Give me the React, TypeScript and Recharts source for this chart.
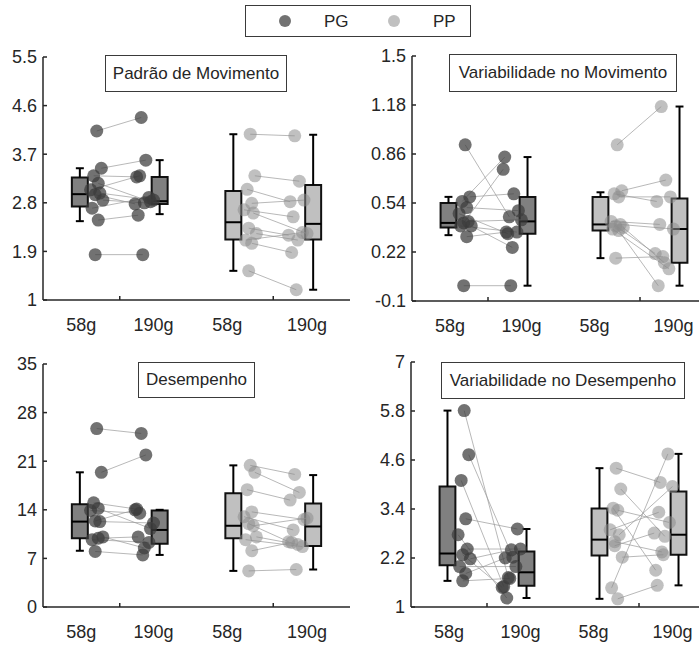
import React from "react";
import {
  ComposedChart,
  XAxis,
  YAxis,
  Scatter,
  ReferenceArea,
  ReferenceLine,
} from "recharts";

const FONT = "'Liberation Sans', Arial, sans-serif";
const AXIS = "#262626";

const groups = ["PG", "PP"];
const xTicks = [0.75, 1, 1.22, 1.7, 2, 2.22];
const xTickLabels = ["58g", "", "190g", "58g", "", "190g"];

// x jitter of each subject around its group centre
const jitter58 = [-0.15, -0.12, -0.17, -0.14, -0.19, -0.13, -0.16, -0.11, -0.18, -0.14, -0.16];
const jitter190 = [0.14, 0.17, 0.11, 0.2, 0.13, 0.22, 0.1, 0.16, 0.19, 0.12, 0.15];

// Padrão de Movimento
const movTicks = [1, 1.9, 2.8, 3.7, 4.6, 5.5];
const movPG58 = [4.13, 3.44, 3.3, 3.16, 3.04, 2.98, 2.95, 2.85, 2.7, 2.48, 1.84];
const movPG190 = [4.38, 3.59, 3.28, 2.82, 3.3, 2.85, 2.78, 2.8, 2.9, 2.57, 1.84];
const movPP58 = [4.07, 3.3, 3.05, 2.79, 2.67, 2.61, 2.33, 2.23, 2.11, 2.05, 1.54];
const movPP190 = [4.04, 3.2, 2.82, 2.85, 2.54, 2.23, 2.2, 2.11, 2.25, 1.88, 1.19];
// [whisker low, q1, median, q3, whisker high]
const movBoxPG58 = [2.46, 2.73, 2.96, 3.27, 3.44];
const movBoxPG190 = [2.59, 2.78, 2.83, 3.28, 3.59];
const movBoxPP58 = [1.54, 2.12, 2.44, 3.02, 4.07];
const movBoxPP190 = [1.19, 2.12, 2.41, 3.13, 4.06];

// Variabilidade no Movimento
const varMovTicks = [-0.1, 0.22, 0.54, 0.86, 1.18, 1.5];
const varMovPG58 = [0.92, 0.58, 0.55, 0.51, 0.47, 0.42, 0.41, 0.39, 0.39, 0.32, 0.0];
const varMovPG190 = [0.45, 0.6, 0.84, 0.49, 0.34, 0.43, 0.76, 0.25, 0.35, 0.35, 0.0];
const varMovPP58 = [0.92, 0.62, 0.6, 0.58, 0.42, 0.4, 0.39, 0.38, 0.37, 0.36, 0.18];
const varMovPP190 = [1.17, 0.69, 0.55, 0.58, 0.4, 0.37, 0.21, 0.15, 0.11, 0.0, 0.19];
const varMovBoxPG58 = [0.33, 0.38, 0.41, 0.54, 0.58];
const varMovBoxPG190 = [0.0, 0.34, 0.42, 0.58, 0.84];
const varMovBoxPP58 = [0.18, 0.36, 0.4, 0.58, 0.61];
const varMovBoxPP190 = [0.0, 0.15, 0.37, 0.57, 1.17];

// Desempenho
const desTicks = [0, 7, 14, 21, 28, 35];
const desPG58 = [25.7, 19.4, 15.0, 14.2, 13.9, 12.3, 12.4, 10.1, 9.7, 9.9, 8.0];
const desPG190 = [25.0, 21.9, 14.1, 11.3, 13.5, 12.1, 14.0, 8.5, 9.3, 10.1, 7.5];
const desPP58 = [20.4, 19.4, 16.9, 13.7, 13.0, 11.7, 12.0, 10.1, 9.7, 8.1, 5.2];
const desPP190 = [19.1, 16.5, 15.4, 12.6, 11.1, 12.8, 9.4, 9.0, 8.7, 9.3, 5.4];
const desBoxPG58 = [8.1, 9.9, 12.3, 14.8, 19.4];
const desBoxPG190 = [7.5, 9.1, 11.1, 13.9, 14.0];
const desBoxPP58 = [5.2, 9.9, 11.7, 16.4, 20.4];
const desBoxPP190 = [5.4, 8.8, 11.6, 14.9, 19.0];

// Variabilidade no Desempenho
const varDesTicks = [1, 2.2, 3.4, 4.6, 5.8, 7];
const varDesPG58 = [5.81, 4.73, 4.1, 3.16, 2.77, 2.42, 2.28, 2.18, 1.99, 1.82, 1.64];
const varDesPG190 = [1.72, 2.22, 1.5, 2.91, 1.22, 2.42, 1.48, 2.4, 1.99, 2.2, 1.7];
const varDesPP58 = [4.4, 3.89, 3.42, 3.37, 2.89, 2.77, 2.5, 2.22, 1.47, 1.2, 2.6];
const varDesPP190 = [4.05, 2.73, 1.9, 3.07, 3.32, 3.95, 2.81, 2.28, 4.75, 1.53, 2.35];
const varDesBoxPG58 = [1.64, 2.02, 2.31, 3.95, 5.81];
const varDesBoxPG190 = [1.22, 1.52, 1.85, 2.36, 2.91];
const varDesBoxPP58 = [1.2, 2.26, 2.65, 3.41, 4.4];
const varDesBoxPP190 = [1.53, 2.28, 2.77, 3.83, 4.75];

const pointFill: Record<string, string> = { PG: "#3c3c3c", PP: "#8c8c8c" };
const pointOpacity: Record<string, number> = { PG: 0.72, PP: 0.55 };
const boxFill: Record<string, string> = { PG: "#808080", PP: "#c0c0c0" };

const BOX_OFF = 0.26;
const BOX_HALF = 0.052;
const CAP_HALF = 0.026;
const TICK_FS = 18;

function XTick(props: any) {
  const { x, y, payload } = props;
  const label = xTickLabels[xTicks.indexOf(payload.value)];
  if (!label) {
    return <line x1={x} x2={x} y1={y} y2={y - 4} stroke={AXIS} strokeWidth={1.5} />;
  }
  return (
    <text x={x} y={y + 18} dy="0.71em" textAnchor="middle" fill={AXIS} fontSize={TICK_FS} fontFamily={FONT}>
      {label}
    </text>
  );
}

type PanelProps = {
  title: string;
  ticks: number[];
  series: number[][]; // PG58, PG190, PP58, PP190
  boxes: number[][];
  left: number;
  top: number;
  w: number;
  h: number;
  titleBox: { x: number; y: number; w: number; h: number };
};

function Panel({ title, ticks, series, boxes, left, top, w, h, titleBox }: PanelProps) {
  const ML = 3;
  const YW = 40;
  const MT = 10;
  const XH = 40;
  const width = ML + YW + w + 2;
  const height = MT + h + XH;

  const elems: React.ReactNode[] = [];
  groups.forEach((g, gi) => {
    const c = gi + 1;
    const s58 = series[gi * 2];
    const s190 = series[gi * 2 + 1];
    [boxes[gi * 2], boxes[gi * 2 + 1]].forEach((b, k) => {
      const bx = k === 0 ? c - BOX_OFF : c + BOX_OFF;
      const key = `${g}-${k}`;
      elems.push(
        <ReferenceLine key={`wl${key}`} segment={[{ x: bx, y: b[0] }, { x: bx, y: b[1] }]} stroke="#000" strokeWidth={2} />,
        <ReferenceLine key={`wh${key}`} segment={[{ x: bx, y: b[3] }, { x: bx, y: b[4] }]} stroke="#000" strokeWidth={2} />,
        <ReferenceLine key={`cl${key}`} segment={[{ x: bx - CAP_HALF, y: b[0] }, { x: bx + CAP_HALF, y: b[0] }]} stroke="#000" strokeWidth={2} />,
        <ReferenceLine key={`ch${key}`} segment={[{ x: bx - CAP_HALF, y: b[4] }, { x: bx + CAP_HALF, y: b[4] }]} stroke="#000" strokeWidth={2} />,
        <ReferenceArea key={`bx${key}`} x1={bx - BOX_HALF} x2={bx + BOX_HALF} y1={b[1]} y2={b[3]} fill={boxFill[g]} fillOpacity={1} stroke="#111" strokeWidth={2} />,
        <ReferenceLine key={`md${key}`} segment={[{ x: bx - BOX_HALF, y: b[2] }, { x: bx + BOX_HALF, y: b[2] }]} stroke="#000" strokeWidth={2} />
      );
    });
    s58.forEach((v, i) => {
      elems.push(
        <ReferenceLine
          key={`pl${g}${i}`}
          segment={[{ x: c + jitter58[i], y: v }, { x: c + jitter190[i], y: s190[i] }]}
          stroke="#9a9a9a"
          strokeOpacity={0.7}
          strokeWidth={1}
        />
      );
    });
  });

  const scatters = groups.map((g, gi) => {
    const c = gi + 1;
    const s58 = series[gi * 2];
    const s190 = series[gi * 2 + 1];
    const data = [
      ...s58.map((v, i) => ({ x: c + jitter58[i], y: v })),
      ...s190.map((v, i) => ({ x: c + jitter190[i], y: v })),
    ];
    return (
      <Scatter
        key={`sc${g}`}
        data={data}
        isAnimationActive={false}
        shape={(p: any) => (
          <circle cx={p.cx} cy={p.cy} r={6.5} fill={pointFill[g]} fillOpacity={pointOpacity[g]} />
        )}
      />
    );
  });

  return (
    <>
      <div style={{ position: "absolute", left: left - ML - YW, top: top - MT }}>
        <ComposedChart width={width} height={height} margin={{ top: MT, right: 2, left: ML, bottom: 0 }}>
          <XAxis
            type="number"
            dataKey="x"
            domain={[0.5, 2.5]}
            ticks={xTicks}
            interval={0}
            tickLine={false}
            tickSize={0}
            tickMargin={0}
            tick={<XTick />}
            height={XH}
            axisLine={{ stroke: AXIS, strokeWidth: 1.5 }}
          />
          <YAxis
            type="number"
            dataKey="y"
            domain={[ticks[0], ticks[ticks.length - 1]]}
            ticks={ticks}
            interval={0}
            width={YW}
            tickSize={-4}
            tickMargin={10}
            tickLine={{ stroke: AXIS, strokeWidth: 1.5 }}
            axisLine={{ stroke: AXIS, strokeWidth: 1.5 }}
            tick={{ fill: AXIS, fontSize: TICK_FS, fontFamily: FONT }}
          />
          {elems}
          {scatters}
        </ComposedChart>
      </div>
      <div
        style={{
          position: "absolute",
          left: titleBox.x,
          top: titleBox.y,
          width: titleBox.w,
          height: titleBox.h,
          boxSizing: "border-box",
          border: "1px solid #3a3a3a",
          background: "#fff",
          display: "flex",
          alignItems: "center",
          justifyContent: "center",
          fontFamily: FONT,
          fontSize: 17,
          color: AXIS,
          whiteSpace: "nowrap",
        }}
      >
        {title}
      </div>
    </>
  );
}

export default function App() {
  return (
    <div
      style={{
        position: "absolute",
        left: 0,
        top: 0,
        width: 699,
        height: 646,
        overflow: "hidden",
        background: "#fff",
      }}
    >
      <Panel
        title="Padrão de Movimento"
        ticks={movTicks}
        series={[movPG58, movPG190, movPP58, movPP190]}
        boxes={[movBoxPG58, movBoxPG190, movBoxPP58, movBoxPP190]}
        left={43}
        top={57}
        w={307}
        h={243}
        titleBox={{ x: 105, y: 55, w: 182, h: 37 }}
      />
      <Panel
        title="Variabilidade no Movimento"
        ticks={varMovTicks}
        series={[varMovPG58, varMovPG190, varMovPP58, varMovPP190]}
        boxes={[varMovBoxPG58, varMovBoxPG190, varMovBoxPP58, varMovBoxPP190]}
        left={412}
        top={56}
        w={304}
        h={245}
        titleBox={{ x: 449, y: 54, w: 228, h: 38 }}
      />
      <Panel
        title="Desempenho"
        ticks={desTicks}
        series={[desPG58, desPG190, desPP58, desPP190]}
        boxes={[desBoxPG58, desBoxPG190, desBoxPP58, desBoxPP190]}
        left={43}
        top={364}
        w={307}
        h={243}
        titleBox={{ x: 138, y: 362, w: 117, h: 36 }}
      />
      <Panel
        title="Variabilidade no Desempenho"
        ticks={varDesTicks}
        series={[varDesPG58, varDesPG190, varDesPP58, varDesPP190]}
        boxes={[varDesBoxPG58, varDesBoxPG190, varDesBoxPP58, varDesBoxPP190]}
        left={411}
        top={362}
        w={304}
        h={245}
        titleBox={{ x: 441, y: 362, w: 244, h: 37 }}
      />
      <div
        style={{
          position: "absolute",
          left: 245,
          top: 5,
          width: 226,
          height: 32,
          boxSizing: "border-box",
          border: "1px solid #3a3a3a",
          background: "#fff",
        }}
      >
        <svg width={224} height={30} style={{ position: "absolute", left: 0, top: 0 }}>
          <circle cx={39} cy={15} r={6} fill={pointFill.PG} fillOpacity={0.72} />
          <text x={78} y={21} fontFamily={FONT} fontSize={17} fill={AXIS}>PG</text>
          <circle cx={148} cy={15} r={6} fill={pointFill.PP} fillOpacity={0.55} />
          <text x={187} y={21} fontFamily={FONT} fontSize={17} fill={AXIS}>PP</text>
        </svg>
      </div>
    </div>
  );
}
